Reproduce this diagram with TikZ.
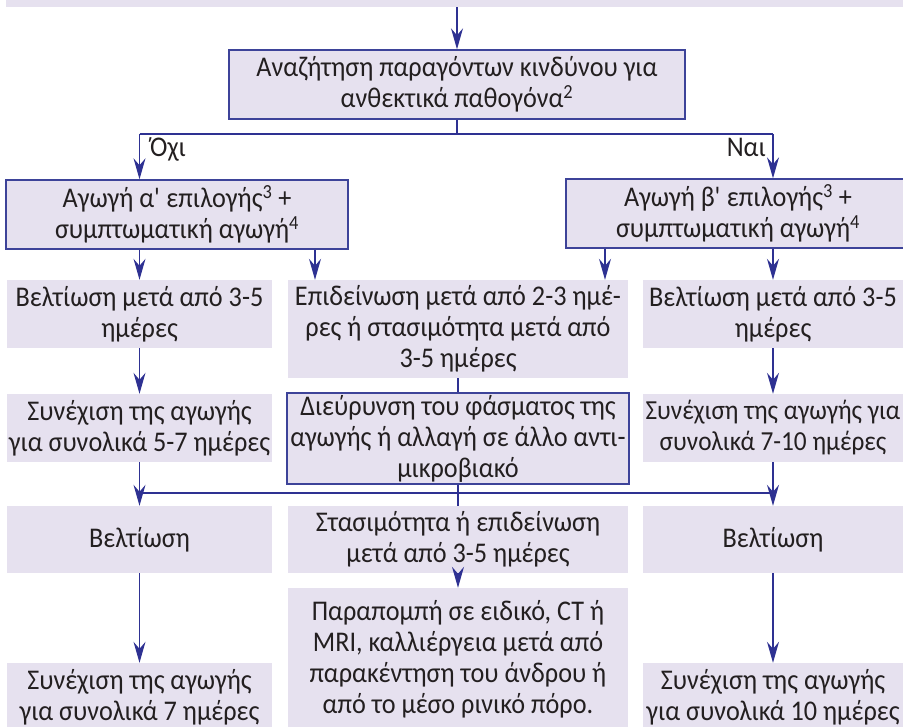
\documentclass[tikz,border=0pt]{standalone}
\usepackage{fontspec}
\setmainfont[FakeStretch=0.92]{Carlito}
\usetikzlibrary{arrows.meta}
\definecolor{boxfill}{HTML}{E6E1EF}
\definecolor{boxline}{HTML}{3D4399}
\definecolor{arrowc}{HTML}{2E3192}
\definecolor{txt}{HTML}{231F20}
\newcommand\bxf{\fontsize{28.5}{31}\selectfont}
\newcommand\bxs{\fontsize{27.5}{31}\selectfont}
\newcommand\apo{\textquotesingle}
\tikzset{
  fbox/.style={fill=boxfill, draw=none, inner sep=0pt, align=center, text=txt, font=\bxf},
  bbox/.style={fbox, draw=boxline, line width=1.4pt},
  conn/.style={draw=arrowc, line width=1.2pt},
  arr/.style={conn, -{Stealth[length=21pt,width=12pt,inset=7pt]}},
  lbl/.style={inner sep=0pt, text=txt, font=\bxf},
}
\begin{document}
\begin{tikzpicture}[x=1pt,y=-1pt]
\useasboundingbox (0,0) rectangle (903,727);
\clip (0,0) rectangle (903,727);
% boxes
\node[fbox, minimum width=904pt, minimum height=17pt] (top) at (458,-1.5) {};
\node[bbox, minimum width=456pt, minimum height=69pt] (A) at (457,84.5)
  {Αναζήτηση παραγόντων κινδύνου για\\ανθεκτικά παθογόνα\textsuperscript{2}};
\node[bbox, minimum width=342pt, minimum height=69pt] (B) at (177,214.5)
  {Αγωγή α\apo{} επιλογής\textsuperscript{3} +\\συμπτωματική αγωγή\textsuperscript{4}};
\node[bbox, minimum width=344pt, minimum height=69pt] (C) at (738,213.5)
  {Αγωγή β\apo{} επιλογής\textsuperscript{3} +\\συμπτωματική αγωγή\textsuperscript{4}};
\node[fbox, minimum width=265pt, minimum height=68pt] (B1) at (139.5,314)
  {Βελτίωση μετά από 3-5\\ημέρες};
\node[fbox, minimum width=340pt, minimum height=98pt] (B2) at (458,329)
  {Επιδείνωση μετά από 2-3 ημέ-\\ρες ή στασιμότητα μετά από\\3-5 ημέρες};
\node[fbox, minimum width=260pt, minimum height=68pt] (B3) at (773,314)
  {Βελτίωση μετά από 3-5\\ημέρες};
\node[fbox, minimum width=265pt, minimum height=68pt] (D1) at (139.5,428)
  {Συνέχιση της αγωγής\\για συνολικά 5-7 ημέρες};
\node[bbox, minimum width=342pt, minimum height=91pt] (D2) at (458,438.5)
  {Διεύρυνση του φάσματος της\\αγωγής ή αλλαγή σε άλλο αντι-\\μικροβιακό};
\node[fbox, font=\bxs, minimum width=260pt, minimum height=68pt] (D3) at (773,428)
  {Συνέχιση της αγωγής για\\συνολικά 7-10 ημέρες};
\node[fbox, minimum width=265pt, minimum height=67pt] (E1) at (139.5,539.5)
  {Βελτίωση};
\node[fbox, minimum width=340pt, minimum height=67pt] (E2) at (458,539.5)
  {Στασιμότητα ή επιδείνωση\\μετά από 3-5 ημέρες};
\node[fbox, minimum width=260pt, minimum height=67pt] (E3) at (773,539.5)
  {Βελτίωση};
\node[fbox, minimum width=265pt, minimum height=68pt] (F1) at (139.5,697)
  {Συνέχιση της αγωγής\\για συνολικά 7 ημέρες};
\node[fbox, minimum width=340pt, minimum height=142pt] (F2) at (458,659)
  {Παραπομπή σε ειδικό, CT ή\\MRI, καλλιέργεια μετά από\\παρακέντηση του άνδρου ή\\από το μέσο ρινικό πόρο.};
\node[fbox, minimum width=260pt, minimum height=68pt] (F3) at (773,697)
  {Συνέχιση της αγωγής\\για συνολικά 10 ημέρες};
% labels
\node[lbl, anchor=base west] (no) at (150,157) {Όχι};
\node[lbl, anchor=base east] (yes) at (766,157) {Ναι};
% connectors
\draw[arr] (top.south -| A.north) -- (A.north);
\coordinate (sl) at (139.5,134);
\coordinate (sr) at (773,134);
\coordinate (sm) at (A.south |- sl);
\draw[conn] (A.south) -- (sm);
\draw[conn] (sl) -- (sr);
\draw[arr] (sl) -- (sl |- B.north);
\draw[arr] (sr) -- (sr |- C.north);
\coordinate (xb) at (315,0);
\coordinate (xc) at (605,0);
\draw[arr] (B.south -| B1.north) -- (B1.north);
\draw[arr] (B.south -| xb) -- (B2.north -| xb);
\draw[arr] (C.south -| xc) -- (B2.north -| xc);
\draw[arr] (C.south -| B3.north) -- (B3.north);
\draw[arr] (B1.south) -- (D1.north);
\draw[conn] (B2.south) -- (D2.north);
\draw[arr] (B3.south) -- (D3.north);
\coordinate (jl) at (139.5,493);
\coordinate (jr) at (773,493);
\draw[conn] (D1.south) -- (jl) -- (jr) -- (D3.south);
\draw[conn] (D2.south) -- (E2.north);
\draw[arr] (jl) -- (E1.north);
\draw[arr] (jr) -- (E3.north);
\draw[arr] (E1.south) -- (F1.north);
\draw[arr] (E2.south) -- (F2.north);
\draw[arr] (E3.south) -- (F3.north);
\end{tikzpicture}
\end{document}
